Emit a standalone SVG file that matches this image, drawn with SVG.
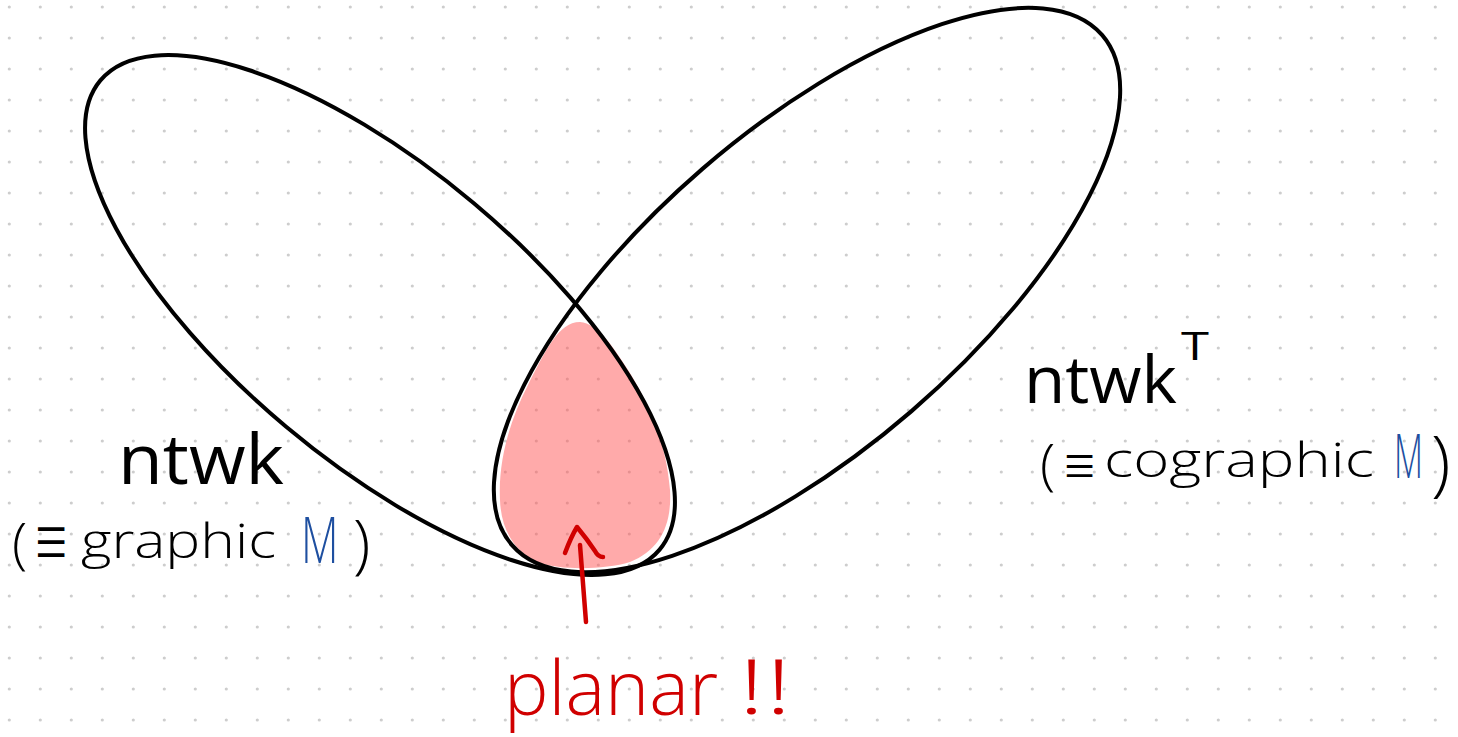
<svg xmlns="http://www.w3.org/2000/svg" width="1458" height="737" viewBox="0 0 1458 737">
  <style>
    .outline { fill: none; stroke: #000; stroke-width: 4; }
    .red { fill: none; stroke: #d00000; stroke-width: 4.5; stroke-linecap: round; stroke-linejoin: round; }
    .big { font-family: "Open Sans", "DejaVu Sans", sans-serif; font-weight: 400; fill: #000; }
    .thin { font-family: "Open Sans", "DejaVu Sans", sans-serif; font-weight: 300; fill: #000; }
    .sym { font-family: "Noto Sans CJK JP", "DejaVu Sans", sans-serif; font-weight: 400; fill: #000; }
    .blue { fill: #1e4fa0; }
    .redtxt { font-family: "Open Sans", "DejaVu Sans", sans-serif; font-weight: 300; fill: #d00000; }
  </style>
  <defs>
    <pattern id="dots" x="0" y="0" width="31" height="31" patternUnits="userSpaceOnUse">
      <circle cx="9.3" cy="7" r="1.6" fill="#cdcdcd"/>
    </pattern>
  </defs>

  <rect width="1458" height="737" fill="#fff"/>
  <rect width="1458" height="737" fill="url(#dots)"/>

  <g id="intersection">
    <path d="M 580,322 C 598,324 612,345 628,370 C 648,402 666,440 670,490 C 672,525 660,550 630,562 C 605,570 560,570 540,563 C 515,553 501,530 500,500 C 498,460 510,420 528,385 C 545,352 558,322 580,322 Z" fill="#ff5656" fill-opacity="0.5"/>
  </g>

  <g id="ntwk-set">
    <ellipse class="outline" cx="380" cy="315" rx="365" ry="146" transform="rotate(40 380 315)"/>
  </g>

  <g id="ntwkT-set">
    <ellipse class="outline" cx="807" cy="290" rx="390" ry="160" transform="rotate(-40.8 807 290)"/>
  </g>

  <g id="connectors">
    <path class="red" d="M 580,545 Q 583,585 586,622"/>
    <path class="red" d="M 565,553 Q 571,537 577,527 Q 587,539 595,551 Q 598,557 603,557"/>
  </g>

  <g id="label-ntwk">
    <text class="big" x="118" y="484" font-size="70" textLength="166" lengthAdjust="spacingAndGlyphs">ntwk</text>
    <text class="thin" x="12" y="563" font-size="56">(</text>
    <text class="sym" transform="translate(33,565) scale(0.7,1.15)" font-size="52">≡</text>
    <text class="thin" x="81" y="558" font-size="48" textLength="195" lengthAdjust="spacingAndGlyphs">graphic</text>
    <text class="thin blue" transform="translate(301,563) scale(0.68,1)" font-size="64">M</text>
    <text class="thin" x="353" y="566" font-size="64">)</text>
  </g>

  <g id="label-ntwkT">
    <text class="big" x="1024" y="403" font-size="66" textLength="153" lengthAdjust="spacingAndGlyphs">ntwk</text>
    <text class="big" x="1181" y="360" font-size="38" textLength="28" lengthAdjust="spacingAndGlyphs">T</text>
    <text class="thin" x="1040" y="484" font-size="56">(</text>
    <text class="sym" transform="translate(1062,483) scale(0.8,1)" font-size="44">≡</text>
    <text class="thin" x="1104" y="477" font-size="48" textLength="270" lengthAdjust="spacingAndGlyphs">cographic</text>
    <text class="thin blue" transform="translate(1394,478) scale(0.56,1)" font-size="60">M</text>
    <text class="thin" x="1431" y="488" font-size="72">)</text>
  </g>

  <g id="label-planar">
    <text class="redtxt" x="504" y="715" font-size="76" textLength="214" lengthAdjust="spacingAndGlyphs">planar</text>
    <text class="redtxt" x="738" y="714" font-size="76" textLength="54" lengthAdjust="spacingAndGlyphs">!!</text>
  </g>
</svg>
